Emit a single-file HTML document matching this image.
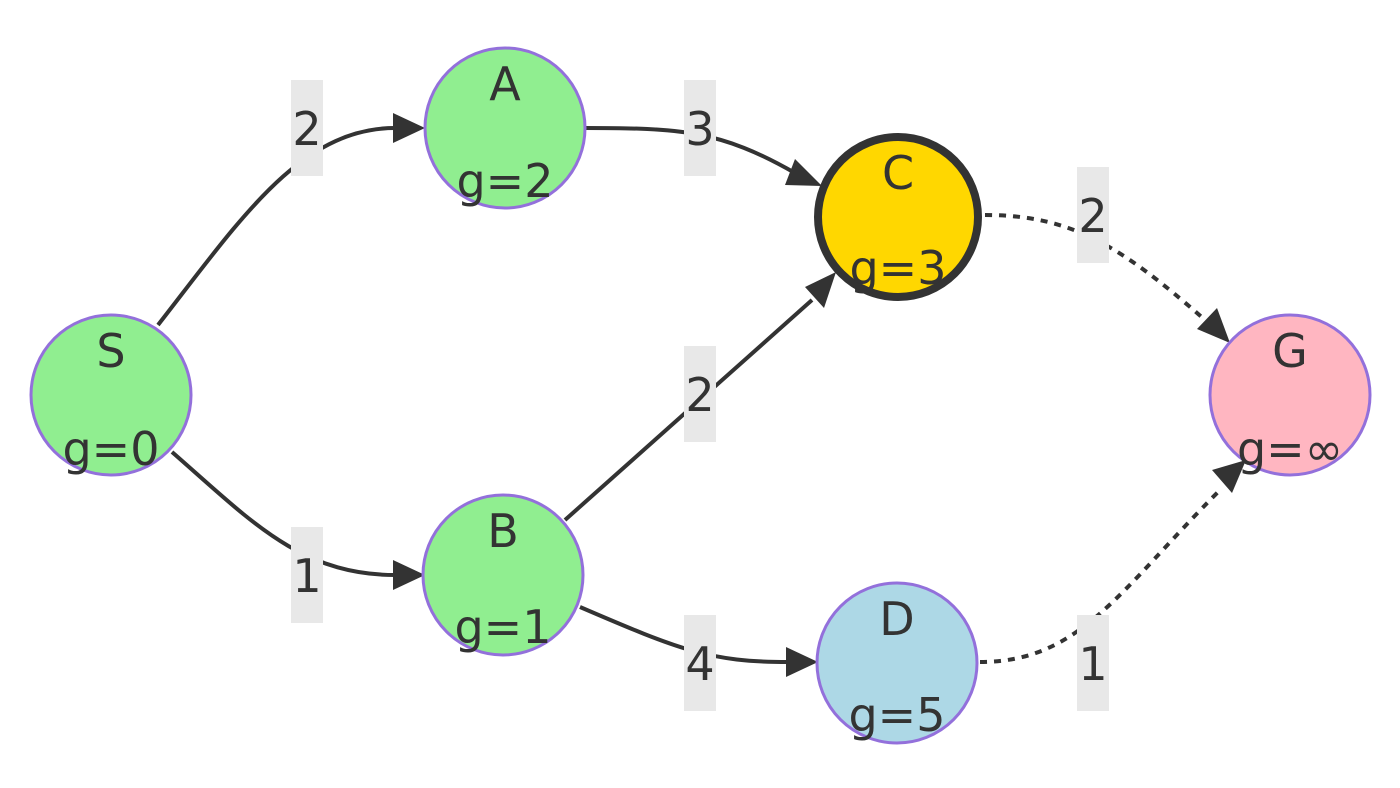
<!DOCTYPE html>
<html><head><meta charset="utf-8"><style>
html,body{margin:0;padding:0;background:#fff;}
svg{display:block}
text{font-family:"DejaVu Sans","Liberation Sans",sans-serif;fill:#333;font-size:46px;text-anchor:middle}
</style></head><body>
<svg width="1400" height="788" viewBox="0 0 1400 788">
<defs>
<marker id="ah" viewBox="0 0 10 10" refX="9" refY="5" markerWidth="6" markerHeight="6" orient="auto" markerUnits="userSpaceOnUse" style="overflow:visible">
</marker>
</defs>
<g fill="none" stroke="#333" stroke-width="4">
<path d="M158 325 C 240 220, 300 128, 395 128"/>
<path d="M172 452 C 250 520, 300 575, 395 575"/>
<path d="M585 128 C 680 128, 720 130, 795 173"/>
<path d="M565 520 L 812 300"/>
<path d="M580 607 C 680 650, 710 662, 788 662"/>
<path d="M985 215 C 1070 215, 1120 245, 1205 320" stroke-dasharray="7,7"/>
<path d="M980 662 C 1080 662, 1120 590, 1220 490" stroke-dasharray="7,7"/>
</g>
<g fill="#333">
<polygon points="425,128 393,113 393,143"/>
<polygon points="425,575 393,560 393,590"/>
<polygon points="822,186 795,159 785,185"/>
<polygon points="836,272 805,287 824,308"/>
<polygon points="818,662 786,647 786,677"/>
<polygon points="1230,343 1197,329 1217,308"/>
<polygon points="1246,460 1212,470 1232,493"/>
</g>
<g fill="#e8e8e8">
<rect x="291" y="80" width="32" height="96"/>
<rect x="291" y="527" width="32" height="96"/>
<rect x="684" y="80" width="32" height="96"/>
<rect x="684" y="346" width="32" height="96"/>
<rect x="684" y="615" width="32" height="96"/>
<rect x="1077" y="167" width="32" height="96"/>
<rect x="1077" y="615" width="32" height="96"/>
</g>
<text x="307" y="145">2</text>
<text x="307" y="592">1</text>
<text x="700" y="145">3</text>
<text x="700" y="411">2</text>
<text x="700" y="680">4</text>
<text x="1093" y="232">2</text>
<text x="1093" y="680">1</text>
<g stroke="#9370db" stroke-width="3">
<circle cx="111" cy="395" r="80" fill="#90ee90"/>
<circle cx="505" cy="128" r="80" fill="#90ee90"/>
<circle cx="503" cy="575" r="80" fill="#90ee90"/>
<circle cx="897" cy="663" r="80" fill="#add8e6"/>
<circle cx="1290" cy="395" r="80" fill="#ffb6c1"/>
</g>
<circle cx="898" cy="217" r="80" fill="#ffd700" stroke="#333" stroke-width="8"/>
<text x="111" y="367">S</text><text x="111" y="465">g=0</text>
<text x="505" y="100">A</text><text x="505" y="197">g=2</text>
<text x="898" y="189">C</text><text x="898" y="284">g=3</text>
<text x="503" y="547">B</text><text x="503" y="643">g=1</text>
<text x="897" y="635">D</text><text x="897" y="731">g=5</text>
<text x="1290" y="367">G</text><text x="1290" y="465">g=∞</text>
</svg>
</body></html>
